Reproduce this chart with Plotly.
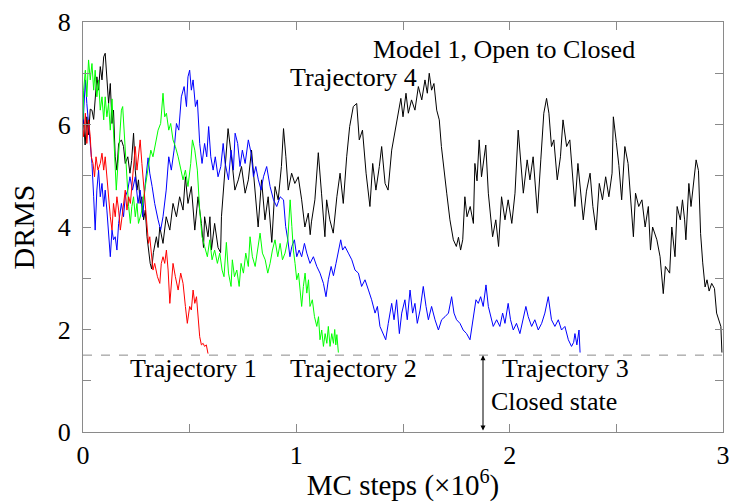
import plotly.graph_objects as go

# DRMS vs Monte Carlo steps (x 10^6) for four trajectories
traj1_x = [0.0, 0.003, 0.011, 0.018, 0.026, 0.034, 0.039, 0.047, 0.054, 0.061, 0.07, 0.081, 0.089, 0.097,
           0.104, 0.112, 0.12, 0.128, 0.136, 0.143, 0.151, 0.159, 0.167, 0.175, 0.183, 0.19, 0.198, 0.206,
           0.214, 0.222, 0.229, 0.237, 0.245, 0.253, 0.26, 0.268, 0.276, 0.284, 0.292, 0.30, 0.307, 0.313,
           0.32, 0.328, 0.336, 0.349, 0.36, 0.367, 0.375, 0.383, 0.391, 0.399, 0.407, 0.414, 0.422, 0.433,
           0.446, 0.458, 0.469, 0.48, 0.489, 0.50, 0.508, 0.516, 0.524, 0.532, 0.539, 0.547, 0.555, 0.563,
           0.57, 0.578, 0.586]
traj1_y = [5.89, 5.76, 6.22, 5.63, 6.09, 5.76, 5.37, 5.24, 4.98, 5.37, 5.11, 5.24, 5.44, 5.11,
           5.37, 4.98, 4.46, 4.2, 3.94, 4.46, 4.2, 4.59, 4.33, 3.94, 4.2, 4.46, 4.72, 4.33,
           4.59, 4.46, 4.79, 5.24, 5.57, 5.11, 5.37, 5.7, 5.24, 4.85, 4.33, 3.94, 3.68, 3.81,
           3.42, 3.16, 3.29, 3.03, 2.9, 3.29, 3.42, 3.29, 3.55, 3.16, 2.51, 2.9, 3.29, 3.03,
           2.77, 3.1, 2.9, 2.45, 2.12, 2.45, 2.38, 2.77, 2.51, 2.64, 2.25, 1.86, 1.7, 1.73,
           1.67, 1.7, 1.53]

traj2_x = [0.0, 0.003, 0.011, 0.018, 0.026, 0.034, 0.042, 0.05, 0.057, 0.065, 0.073, 0.081, 0.089, 0.097,
           0.104, 0.112, 0.12, 0.128, 0.136, 0.143, 0.151, 0.156, 0.164, 0.172, 0.18, 0.186, 0.192, 0.198,
           0.206, 0.214, 0.222, 0.229, 0.237, 0.245, 0.253, 0.26, 0.273, 0.284, 0.295, 0.307, 0.318, 0.328,
           0.339, 0.352, 0.364, 0.375, 0.383, 0.391, 0.402, 0.411, 0.422, 0.433, 0.446, 0.458, 0.469, 0.48,
           0.492, 0.505, 0.513, 0.524, 0.536, 0.547, 0.558, 0.57, 0.583, 0.594, 0.605, 0.617, 0.63, 0.641,
           0.652, 0.661, 0.672, 0.682, 0.694, 0.70, 0.71, 0.721, 0.732, 0.741, 0.752, 0.763, 0.775, 0.783,
           0.794, 0.807, 0.819, 0.83, 0.841, 0.854, 0.866, 0.877, 0.888, 0.90, 0.913, 0.924, 0.935, 0.947,
           0.96, 0.971, 0.979, 0.986, 0.994, 1.002, 1.01, 1.018, 1.025, 1.033, 1.041, 1.049, 1.057, 1.064,
           1.075, 1.085, 1.096, 1.104, 1.111, 1.119, 1.127, 1.135, 1.143, 1.15, 1.158, 1.166, 1.174, 1.18,
           1.185, 1.19, 1.197]
traj2_y = [6.1, 6.67, 7.06, 6.54, 7.26, 6.87, 7.19, 6.67, 7.06, 6.54, 6.87, 6.28, 6.54, 6.09,
           6.54, 6.15, 6.41, 5.89, 6.5, 5.76, 5.11, 4.72, 5.24, 5.89, 6.28, 6.35, 5.89, 5.37,
           4.92, 4.4, 4.07, 4.4, 4.59, 4.2, 4.46, 4.07, 4.27, 4.59, 4.85, 5.2, 5.5, 5.37,
           5.63, 5.89, 6.02, 6.61, 6.15, 6.22, 5.89, 6.02, 5.7, 5.57, 5.37, 5.11, 4.92, 5.11,
           4.79, 5.24, 5.7, 5.5, 5.11, 4.33, 3.81, 3.62, 3.42, 3.75, 3.36, 3.55, 3.29, 3.49,
           3.16, 3.03, 3.7, 3.1, 2.84, 3.36, 3.03, 3.16, 2.84, 3.29, 3.1, 3.49, 3.23, 3.81,
           3.42, 3.23, 3.55, 3.88, 3.49, 3.36, 3.1, 3.29, 3.55, 3.75, 3.42, 3.68, 3.36, 3.49,
           3.75, 4.53, 4.01, 3.55, 3.29, 2.97, 3.1, 2.71, 2.45, 2.84, 3.1, 2.71, 2.97, 2.45,
           2.58, 2.25, 2.06, 2.25, 1.8, 1.99, 1.67, 1.92, 1.73, 2.06, 1.67, 1.92, 1.73, 2.0,
           1.7, 1.9, 1.55]

traj3_x = [0.0, 0.003, 0.011, 0.018, 0.026, 0.034, 0.042, 0.05, 0.057, 0.065, 0.073, 0.081, 0.089, 0.097,
           0.104, 0.112, 0.12, 0.128, 0.136, 0.143, 0.151, 0.159, 0.167, 0.18, 0.19, 0.198, 0.21, 0.22,
           0.232, 0.245, 0.258, 0.268, 0.28, 0.292, 0.305, 0.313, 0.324, 0.336, 0.352, 0.364, 0.375, 0.39,
           0.402, 0.414, 0.427, 0.438, 0.449, 0.461, 0.474, 0.485, 0.492, 0.50, 0.508, 0.516, 0.527, 0.536,
           0.547, 0.558, 0.57, 0.58, 0.589, 0.599, 0.61, 0.62, 0.633, 0.646, 0.657, 0.666, 0.682, 0.694,
           0.705, 0.713, 0.725, 0.736, 0.747, 0.76, 0.775, 0.788, 0.799, 0.81, 0.822, 0.835, 0.846, 0.861,
           0.877, 0.893, 0.908, 0.924, 0.94, 0.95, 0.96, 0.97, 0.979, 0.991, 1.002, 1.013, 1.025, 1.038,
           1.049, 1.064, 1.08, 1.096, 1.111, 1.127, 1.139, 1.15, 1.163, 1.174, 1.186, 1.197, 1.208, 1.217,
           1.228, 1.244, 1.26, 1.275, 1.291, 1.306, 1.322, 1.338, 1.353, 1.369, 1.38, 1.392, 1.408, 1.419,
           1.431, 1.447, 1.458, 1.47, 1.483, 1.494, 1.509, 1.52, 1.533, 1.545, 1.556, 1.567, 1.58, 1.595,
           1.608, 1.619, 1.634, 1.65, 1.666, 1.681, 1.697, 1.713, 1.728, 1.739, 1.751, 1.767, 1.782, 1.798,
           1.814, 1.829, 1.842, 1.853, 1.864, 1.876, 1.889, 1.90, 1.91, 1.923, 1.939, 1.954, 1.967, 1.978,
           1.993, 2.004, 2.017, 2.032, 2.048, 2.064, 2.076, 2.087, 2.103, 2.118, 2.134, 2.15, 2.165, 2.181,
           2.196, 2.212, 2.228, 2.243, 2.259, 2.275, 2.29, 2.30, 2.306, 2.315, 2.325, 2.33]
traj3_y = [6.0, 6.22, 6.87, 6.41, 6.02, 5.5, 5.24, 4.59, 3.94, 4.72, 5.11, 4.59, 4.85, 4.4,
           4.72, 4.33, 3.81, 3.42, 3.94, 3.75, 3.81, 3.55, 4.07, 4.46, 4.2, 4.59, 4.72, 4.98,
           4.72, 4.98, 4.46, 4.72, 4.2, 4.85, 5.35, 5.05, 4.79, 4.46, 4.14, 3.94, 4.2, 4.72,
           5.37, 5.11, 5.5, 6.02, 5.89, 6.54, 6.74, 6.35, 6.93, 7.06, 6.67, 6.87, 6.35, 6.48,
           5.63, 5.24, 5.63, 5.37, 5.96, 5.37, 5.11, 5.37, 4.98, 5.18, 5.63, 5.25, 4.92, 5.5,
           5.11, 5.83, 5.63, 5.18, 5.5, 5.24, 5.7, 5.44, 4.98, 5.18, 4.92, 4.72, 4.98, 5.18,
           4.79, 4.53, 4.4, 4.59, 4.53, 4.01, 3.75, 3.42, 3.62, 3.75, 3.42, 3.55, 3.42, 3.68,
           3.49, 3.29, 3.42, 3.23, 3.1, 2.9, 2.64, 2.97, 3.23, 3.05, 3.29, 3.49, 3.75, 3.55,
           3.62, 3.49, 3.36, 3.16, 3.1, 2.84, 2.97, 2.77, 2.58, 2.32, 2.45, 2.06, 1.92, 1.8,
           2.12, 2.51, 2.19, 2.58, 1.92, 2.32, 2.58, 2.19, 2.77, 2.32, 2.51, 2.12, 2.38, 2.84,
           2.45, 2.19, 2.45, 2.19, 1.99, 2.19, 2.25, 2.32, 2.64, 2.32, 2.19, 2.12, 1.99, 1.92,
           1.8, 2.19, 2.58, 2.51, 2.64, 2.45, 2.87, 2.45, 2.25, 2.06, 2.19, 2.06, 2.32, 2.12,
           2.51, 2.19, 1.99, 2.12, 1.92, 2.25, 2.45, 2.25, 2.06, 2.19, 1.99, 2.12, 2.32, 2.64,
           2.19, 2.06, 2.19, 1.99, 2.06, 1.8, 1.67, 1.75, 1.92, 1.7, 1.99, 1.55]

traj4_x = [0.0, 0.005, 0.01, 0.018, 0.026, 0.034, 0.042, 0.05, 0.057, 0.065, 0.073, 0.081, 0.089, 0.097,
           0.104, 0.112, 0.12, 0.128, 0.136, 0.143, 0.151, 0.159, 0.167, 0.18, 0.19, 0.198, 0.21, 0.22,
           0.228, 0.237, 0.245, 0.253, 0.26, 0.268, 0.276, 0.284, 0.292, 0.30, 0.307, 0.315, 0.322, 0.33,
           0.344, 0.352, 0.36, 0.375, 0.39, 0.407, 0.422, 0.438, 0.453, 0.469, 0.48, 0.492, 0.508, 0.524,
           0.539, 0.555, 0.565, 0.57, 0.586, 0.595, 0.602, 0.617, 0.633, 0.645, 0.649, 0.664, 0.68, 0.696,
           0.712, 0.728, 0.743, 0.76, 0.775, 0.79, 0.806, 0.821, 0.837, 0.853, 0.868, 0.885, 0.90, 0.915,
           0.93, 0.94, 0.951, 0.962, 0.978, 0.993, 1.009, 1.025, 1.04, 1.056, 1.065, 1.071, 1.087, 1.103,
           1.118, 1.134, 1.142, 1.157, 1.173, 1.19, 1.205, 1.22, 1.236, 1.25, 1.267, 1.283, 1.295, 1.31,
           1.327, 1.345, 1.358, 1.373, 1.389, 1.40, 1.416, 1.43, 1.447, 1.462, 1.478, 1.49, 1.50, 1.514,
           1.525, 1.54, 1.556, 1.572, 1.588, 1.603, 1.614, 1.623, 1.634, 1.645, 1.658, 1.67, 1.68, 1.692,
           1.705, 1.72, 1.736, 1.75, 1.76, 1.77, 1.78, 1.79, 1.80, 1.815, 1.83, 1.837, 1.847, 1.857,
           1.868, 1.888, 1.90, 1.92, 1.935, 1.948, 1.962, 1.978, 1.993, 2.01, 2.025, 2.04, 2.056, 2.064,
           2.082, 2.095, 2.11, 2.13, 2.146, 2.16, 2.173, 2.184, 2.196, 2.207, 2.223, 2.238, 2.25, 2.267,
           2.282, 2.298, 2.306, 2.32, 2.333, 2.345, 2.36, 2.377, 2.39, 2.405, 2.42, 2.435, 2.45, 2.465,
           2.48, 2.486, 2.50, 2.512, 2.525, 2.54, 2.555, 2.565, 2.58, 2.59, 2.605, 2.62, 2.635, 2.65,
           2.66, 2.67, 2.69, 2.705, 2.72, 2.73, 2.75, 2.76, 2.775, 2.785, 2.80, 2.81, 2.82, 2.826,
           2.84, 2.85, 2.86, 2.874, 2.885, 2.89, 2.895, 2.905, 2.916, 2.925, 2.935, 2.947, 2.96, 2.97,
           2.98, 2.99, 2.995]
traj4_y = [6.2, 5.95, 5.6, 6.15, 5.8, 6.3, 6.28, 6.1, 6.54, 6.93, 6.67, 7.13, 6.87, 7.32,
           7.39, 6.87, 6.41, 6.8, 6.02, 6.28, 5.37, 5.11, 5.63, 5.7, 5.57, 5.24, 5.37, 5.05,
           5.3, 5.83, 5.11, 4.72, 4.92, 4.46, 4.59, 4.14, 4.33, 3.81, 3.55, 3.29, 3.18, 3.5,
           3.81, 3.6, 4.0, 3.68, 4.2, 3.94, 4.46, 4.2, 4.59, 4.33, 4.98, 4.46, 4.79, 3.94,
           4.59, 4.07, 3.6, 4.2, 3.81, 4.2, 3.55, 4.07, 3.6, 3.5, 4.2, 5.11, 5.92, 5.37,
           4.72, 4.92, 5.18, 4.66, 4.92, 5.5, 4.72, 4.0, 4.92, 4.14, 4.59, 3.7, 4.79, 4.53,
           5.18, 5.92, 5.37, 4.72, 5.05, 4.85, 4.98, 4.53, 4.0, 4.27, 3.85, 4.1, 4.53, 5.45,
           4.66, 3.81, 4.53, 4.14, 3.88, 4.59, 5.05, 4.46, 5.37, 5.96, 6.35, 6.41, 5.7, 5.89,
           5.05, 4.4, 5.24, 4.72, 5.18, 5.57, 4.85, 4.72, 5.5, 5.83, 6.22, 6.51, 6.15, 6.61,
           6.22, 6.48, 6.28, 6.74, 6.48, 6.87, 6.61, 7.0, 6.67, 6.8, 6.28, 6.09, 5.57, 5.18,
           4.66, 4.14, 3.75, 3.62, 3.8, 3.55, 3.75, 4.59, 4.2, 4.4, 4.07, 5.24, 4.9, 5.7,
           4.98, 5.6, 4.66, 3.81, 4.14, 3.62, 4.59, 4.14, 4.53, 4.07, 4.66, 5.89, 5.05, 4.66,
           5.31, 4.92, 5.37, 4.27, 5.31, 6.22, 6.51, 6.22, 5.57, 5.7, 4.92, 5.37, 6.09, 5.57,
           5.7, 4.92, 4.4, 5.24, 4.6, 4.14, 4.7, 5.05, 4.4, 3.94, 4.85, 4.53, 4.98, 4.59,
           5.05, 6.15, 5.65, 5.2, 4.53, 5.57, 5.24, 4.66, 3.81, 4.66, 4.4, 4.53, 4.0, 4.4,
           3.55, 4.0, 3.75, 3.42, 2.70, 3.23, 3.1, 4.0, 3.42, 4.4, 4.14, 4.53, 4.14, 3.75,
           4.85, 4.4, 4.75, 5.31, 5.1, 4.3, 3.87, 3.3, 2.83, 2.97, 2.75, 2.9, 2.8, 2.32,
           2.2, 2.06, 1.55]

closed_cutoff = 1.5
arrow_x = 1.875

SERIF = "Liberation Serif, Times New Roman, serif"
AXIS_GREY = "#8a8a8a"

fig = go.Figure()
for xs, ys, color in [(traj4_x, traj4_y, "#000000"),
                      (traj3_x, traj3_y, "#0000ff"),
                      (traj2_x, traj2_y, "#00ff00"),
                      (traj1_x, traj1_y, "#ff0000")]:
    fig.add_trace(go.Scatter(x=xs, y=ys, mode="lines",
                             line=dict(color=color, width=1), showlegend=False))

# closed-state threshold
fig.add_shape(type="line", xref="x", yref="y", x0=0, x1=3, y0=closed_cutoff, y1=closed_cutoff,
              line=dict(color=AXIS_GREY, width=1, dash="dash"))

# double-headed arrow marking the closed-state region
fig.add_annotation(x=arrow_x, y=closed_cutoff, ax=arrow_x, ay=0, xref="x", yref="y",
                   axref="x", ayref="y", text="", showarrow=True, arrowhead=2,
                   arrowside="end+start", arrowsize=1, arrowwidth=1, arrowcolor="#000000")

labels = [
    ("Model 1, Open to Closed", 1.973, 7.47),
    ("Trajectory 4", 1.266, 6.92),
    ("Trajectory 1", 0.52, 1.23),
    ("Trajectory 2", 1.268, 1.23),
    ("Trajectory 3", 2.264, 1.23),
    ("Closed state", 2.21, 0.60),
]
for text, x, y in labels:
    fig.add_annotation(x=x, y=y, xref="x", yref="y", text=text, showarrow=False,
                       xanchor="center", yanchor="middle",
                       font=dict(family=SERIF, size=26, color="#000000"))

tick_style = dict(ticks="inside", ticklen=8, tickcolor=AXIS_GREY, tickwidth=1)
axis_common = dict(showline=True, linecolor=AXIS_GREY, linewidth=1, mirror="ticks",
                   showgrid=False, zeroline=False, automargin=False,
                   tickfont=dict(family=SERIF, size=26, color="#000000"), **tick_style)

# labelled ticks on integers (x) / even values (y), unlabelled ticks in between
fig.update_xaxes(range=[0, 3], tick0=0, dtick=1,
                 minor=dict(dtick=0.5, showgrid=False, **tick_style),
                 title=dict(text="MC steps (×10<sup>6</sup>)", standoff=6,
                            font=dict(family=SERIF, size=29, color="#000000")),
                 **axis_common)
fig.update_yaxes(range=[0, 8], tick0=0, dtick=2, ticklabelstandoff=6,
                 minor=dict(dtick=1, showgrid=False, **tick_style),
                 title=dict(text="DRMS", standoff=14,
                            font=dict(family=SERIF, size=30, color="#000000")),
                 **axis_common)

fig.update_layout(width=733, height=502,
                  margin=dict(l=83, r=10, t=22, b=70, autoexpand=False),
                  paper_bgcolor="white", plot_bgcolor="white")

fig.write_html("out.html")
